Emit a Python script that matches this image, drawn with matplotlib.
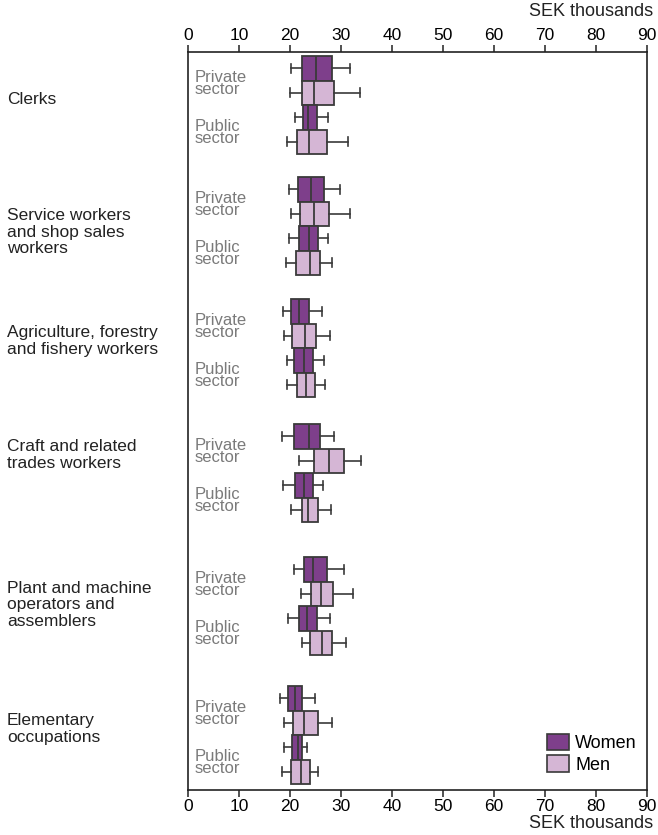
import matplotlib
matplotlib.use("Agg")
import matplotlib.pyplot as plt
from matplotlib.patches import Patch

plt.rcParams['font.family'] = ['Liberation Sans', 'DejaVu Sans']

# yrkesgrupper
categories = ["Clerks",
              "Service workers\nand shop sales\nworkers",
              "Agriculture, forestry\nand fishery workers",
              "Craft and related\ntrades workers",
              "Plant and machine\noperators and\nassemblers",
              "Elementary\noccupations"]
sectors = ["Private\nsector", "Public\nsector"]
xticks = [0, 10, 20, 30, 40, 50, 60, 70, 80, 90]
unit = "SEK thousands"

# lonefordelning (SEK tusen): whisker lo, q1, median, q3, whisker hi
women_private_lo = [20.2, 19.8, 18.6, 18.5, 20.8, 18.0]
women_private_q1 = [22.4, 21.6, 20.1, 20.8, 22.7, 19.7]
women_private_med = [25.1, 24.2, 21.8, 23.7, 24.6, 21.0]
women_private_q3 = [28.2, 26.7, 23.7, 25.9, 27.2, 22.4]
women_private_hi = [31.8, 29.9, 26.2, 28.7, 30.5, 24.9]

men_private_lo = [20.0, 20.1, 18.9, 21.8, 22.1, 18.8]
men_private_q1 = [22.4, 21.9, 20.4, 24.8, 24.1, 20.5]
men_private_med = [24.8, 24.8, 22.9, 27.6, 26.0, 22.8]
men_private_q3 = [28.6, 27.7, 25.0, 30.5, 28.5, 25.5]
men_private_hi = [33.7, 31.8, 27.8, 33.9, 32.4, 28.2]

women_public_lo = [21.0, 19.8, 19.4, 18.7, 19.7, 18.8]
women_public_q1 = [22.5, 21.8, 20.8, 21.0, 21.8, 20.3]
women_public_med = [23.6, 23.7, 22.7, 22.7, 23.3, 21.5]
women_public_q3 = [25.3, 25.4, 24.6, 24.5, 25.3, 22.4]
women_public_hi = [27.5, 27.5, 26.6, 26.5, 27.8, 23.3]

men_public_lo = [19.5, 19.2, 19.4, 20.2, 22.3, 18.5]
men_public_q1 = [21.3, 21.1, 21.4, 22.3, 24.0, 20.1]
men_public_med = [23.8, 23.9, 23.1, 23.6, 26.2, 22.1]
men_public_q3 = [27.2, 25.9, 24.9, 25.4, 28.3, 23.9]
men_public_hi = [31.4, 28.2, 26.8, 28.0, 30.9, 25.5]

series = [
    (women_private_lo, women_private_q1, women_private_med, women_private_q3, women_private_hi),
    (men_private_lo, men_private_q1, men_private_med, men_private_q3, men_private_hi),
    (women_public_lo, women_public_q1, women_public_med, women_public_q3, women_public_hi),
    (men_public_lo, men_public_q1, men_public_med, men_public_q3, men_public_hi),
]

# layout (pixel offsets from top of axes)
ax_h = 738
group_top = [4, 125, 247, 372, 505, 634]
label_y = [48, 180, 289, 403, 553, 677]
box_h = 24.5
women_col = "#7e3f8b"
men_col = "#d5b6d5"
edge = "#3a3a3a"

fig = plt.figure(figsize=(6.58, 8.35), dpi=100)
ax = fig.add_axes([188 / 658, 1 - 790 / 835, 459 / 658, 738 / 835])

for k, (lo, q1, med, q3, hi) in enumerate(series):
    stats = []
    pos = []
    for i in range(len(categories)):
        stats.append(dict(whislo=lo[i], q1=q1[i], med=med[i], q3=q3[i], whishi=hi[i], fliers=[]))
        pos.append(group_top[i] + box_h * (k + 0.5))
    col = women_col if k % 2 == 0 else men_col
    ax.bxp(stats, positions=pos, widths=box_h, orientation="horizontal",
           patch_artist=True, showfliers=False, capwidths=9,
           boxprops=dict(facecolor=col, edgecolor=edge, linewidth=1.3),
           medianprops=dict(color=edge, linewidth=1.3),
           whiskerprops=dict(color=edge, linewidth=1.2),
           capprops=dict(color=edge, linewidth=1.2))

ax.set_xlim(0, 90)
ax.set_ylim(ax_h, 0)
ax.set_yticks([])
ax.set_xticks(xticks)
ax.tick_params(axis="x", top=True, labeltop=True, bottom=True, labelbottom=True,
               direction="out", length=5, width=1.1, labelsize=12.5, pad=1.5, color="#222222")
for s in ax.spines.values():
    s.set_linewidth(1.2)
    s.set_color("#222222")

# sektor-etiketter
for i in range(len(categories)):
    for j, sec in enumerate(sectors):
        y = group_top[i] + box_h * (2 * j + 1) + 3
        ax.text(1.3, y, sec, fontsize=12, color="#7a7a7a", va="center", ha="left",
                linespacing=0.8)

# yrkesgrupp-etiketter
for i, cat in enumerate(categories):
    fig.text(7 / 658, 1 - (52 + label_y[i]) / 835, cat, fontsize=12.5, color="#222222",
             va="center", ha="left", linespacing=1.1)

fig.text(653 / 658, 1 - 12 / 835, unit, fontsize=13, ha="right", va="center", color="#222222")
fig.text(653 / 658, 1 - 823 / 835, unit, fontsize=13, ha="right", va="center", color="#222222")

handles = [Patch(facecolor=women_col, edgecolor=edge, linewidth=1.2, label="Women"),
           Patch(facecolor=men_col, edgecolor=edge, linewidth=1.2, label="Men")]
ax.legend(handles=handles, loc="lower right", bbox_to_anchor=(1.013, 0), frameon=False,
          fontsize=13, handlelength=1.2, handleheight=1.0, handletextpad=0.35,
          labelspacing=0.2, borderaxespad=0.5)

fig.savefig("out.png", dpi=100)
